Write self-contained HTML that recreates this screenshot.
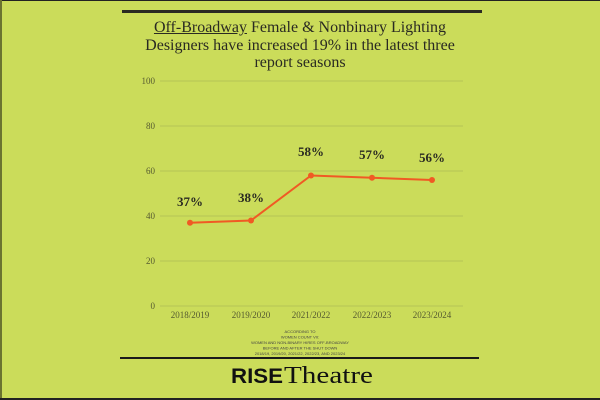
<!DOCTYPE html>
<html><head><style>
body{margin:0;width:600px;height:400px;overflow:hidden;background:#cbdc5a;font-family:"Liberation Serif",serif;position:relative}
.b{position:absolute}
</style></head><body>
<div class="b" style="left:0;top:0;width:600px;height:1px;background:#222"></div>
<div class="b" style="left:0;top:0;width:2px;height:400px;background:#6b7330"></div>
<div class="b" style="left:122px;top:10px;width:360px;height:3px;background:#2a2a22"></div>
<div class="b" style="left:100px;top:19px;width:400px;text-align:center;font-size:16px;line-height:17.5px;color:#2a2a22"><u>Off-Broadway</u> Female &amp; Nonbinary Lighting<br>Designers have increased 19% in the latest three<br>report seasons</div>
<svg class="b" style="left:0;top:0" width="600" height="400">
<g stroke="#b5c455" stroke-width="1">
<line x1="160" x2="463" y1="306" y2="306"/><line x1="160" x2="463" y1="261" y2="261"/><line x1="160" x2="463" y1="216" y2="216"/><line x1="160" x2="463" y1="171" y2="171"/><line x1="160" x2="463" y1="126" y2="126"/><line x1="160" x2="463" y1="81" y2="81"/>
</g>
<g font-family="Liberation Serif,serif" font-size="9" fill="#555a30" text-anchor="end">
<text x="155" y="309">0</text><text x="155" y="264">20</text><text x="155" y="219">40</text><text x="155" y="174">60</text><text x="155" y="129">80</text><text x="155" y="84">100</text>
</g>
<g font-family="Liberation Serif,serif" font-size="9" fill="#555a30" text-anchor="middle">
<text x="190" y="318">2018/2019</text><text x="251" y="318">2019/2020</text><text x="311" y="318">2021/2022</text><text x="372" y="318">2022/2023</text><text x="432" y="318">2023/2024</text>
</g>
<polyline points="190,222.75 251,220.5 311,175.5 372,177.75 432,180" fill="none" stroke="#f05a24" stroke-width="2"/>
<g fill="#f05a24"><circle cx="190" cy="222.75" r="3"/><circle cx="251" cy="220.5" r="3"/><circle cx="311" cy="175.5" r="3"/><circle cx="372" cy="177.75" r="3"/><circle cx="432" cy="180" r="3"/></g>
<g font-family="Liberation Serif,serif" font-size="13" font-weight="bold" fill="#2a2a22" text-anchor="middle">
<text x="190" y="206">37%</text><text x="251" y="202">38%</text><text x="311" y="156">58%</text><text x="372" y="159">57%</text><text x="432" y="162">56%</text>
</g>
<g font-family="Liberation Sans,sans-serif" font-size="4" fill="#444" text-anchor="middle">
<text x="300" y="333">ACCORDING TO</text><text x="300" y="338.5">WOMEN COUNT VII:</text><text x="300" y="344">WOMEN AND NON-BINARY HIRES OFF-BROADWAY</text><text x="300" y="349.5">BEFORE AND AFTER THE SHUT DOWN</text><text x="300" y="355">2018/19, 2019/20, 2021/22, 2022/23, AND 2023/24</text>
</g>
<rect x="120" y="357" width="359" height="2" fill="#1a1a1a"/>
<text x="231" y="383" font-family="Liberation Sans,sans-serif" font-weight="900" font-size="21" fill="#111" textLength="52" lengthAdjust="spacingAndGlyphs">RISE</text>
<text x="284" y="383" font-family="Liberation Serif,serif" font-size="24" fill="#111" textLength="89" lengthAdjust="spacingAndGlyphs">Theatre</text>
<rect x="0" y="398" width="600" height="2" fill="#222"/>
</svg>
</body></html>
